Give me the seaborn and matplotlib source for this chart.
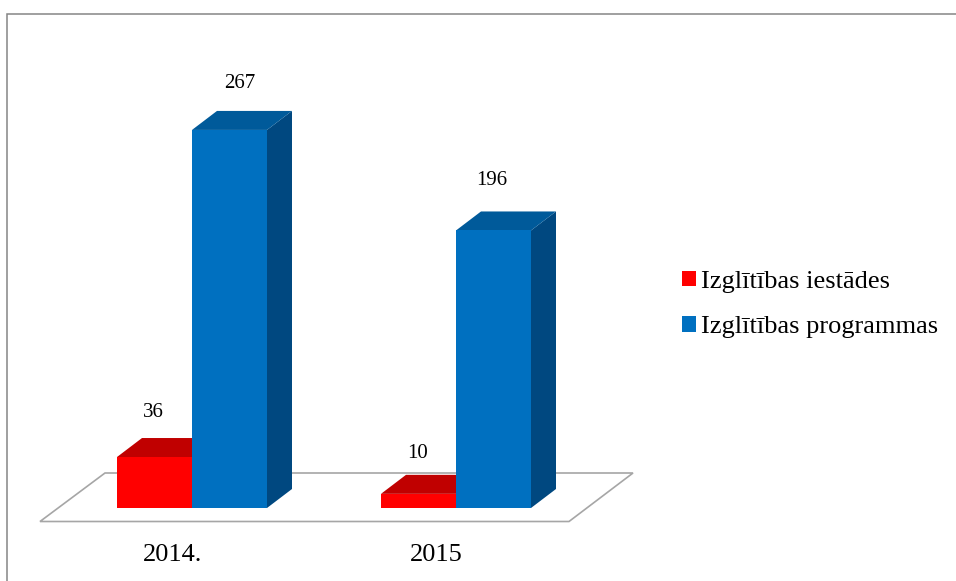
import matplotlib
matplotlib.use("Agg")
import matplotlib.pyplot as plt
import seaborn as sns
import pandas as pd
from matplotlib.lines import Line2D
from matplotlib.patches import Polygon, Rectangle

years = ["2014.", "2015"]
series_names = ["Izglītības iestādes", "Izglītības programmas"]
iestades = [36, 10]
programmas = [267, 196]
front_colors = ["#ff0000", "#0070c0"]
top_colors = ["#c00000", "#005a9a"]
side_colors = ["#a80000", "#004880"]

W, H = 956, 581
sns.set_style("white")
plt.rcParams["font.family"] = ["Liberation Serif", "DejaVu Serif"]

df = pd.DataFrame({
    "year": years * 2,
    "series": [series_names[0]] * 2 + [series_names[1]] * 2,
    "value": iestades + programmas,
})

fig = plt.figure(figsize=(W / 100, H / 100), dpi=100)
fig.patch.set_facecolor("white")

# chart frame: only the top and left edges fall inside the picture
fx, fy = 6.8 / W, 1 - 13.5 / H
fig.add_artist(Line2D([fx, fx, 1], [0, fy, fy], transform=fig.transFigure,
                      color="#858585", lw=1.1, solid_joinstyle="miter"))

left, right, base, scale = 60, 588, 508, 1.416
top = base - 300 * scale
ax = fig.add_axes([left / W, 1 - base / H, (right - left) / W, (base - top) / H])
ax.patch.set_alpha(0)
ax.set_zorder(2)
sns.barplot(data=df, x="year", y="value", hue="series", hue_order=series_names,
            palette=front_colors, width=150 / 264, gap=0, saturation=1, ax=ax,
            legend=False, zorder=3, edgecolor="none", linewidth=0)
ax.set_xlim(-0.5, 1.5)
ax.set_ylim(0, 300)
ax.set_xlabel("")
ax.set_ylabel("")
ax.set_yticks([])
ax.tick_params(axis="x", length=0, labelsize=1, labelcolor="none")
for s in ax.spines.values():
    s.set_visible(False)

DX, DY = 25, 19

# perspective floor, in pixels
floor = Polygon([(40, H - 521.5), (569, H - 521.5), (633, H - 473), (105, H - 473)],
                closed=True, fc="white", ec="#a6a6a6", lw=1.2,
                transform=None, zorder=1, clip_on=False)
fig.add_artist(floor)

# 3D faces derived from each bar's own geometry
n = len(years)
bars = list(ax.patches)[:2 * n]
# value label offset from the bar's top right corner, in pixels
label_offsets = [(-39, 44.5), (-38, 40.5), (-27, 46), (-39, 49.5)]
for i, bar in enumerate(bars):
    sidx = i // n
    x0, x1 = bar.get_x(), bar.get_x() + bar.get_width()
    h = bar.get_height()
    (xa, ya), (xb, yb) = ax.transData.transform([(x0, 0), (x1, h)])
    top_face = Polygon([(xa, yb), (xb, yb), (xb + DX, yb + DY), (xa + DX, yb + DY)],
                       closed=True, fc=top_colors[sidx], ec="none", transform=None, zorder=2)
    side_face = Polygon([(xb, ya), (xb + DX, ya + DY), (xb + DX, yb + DY), (xb, yb)],
                        closed=True, fc=side_colors[sidx], ec="none", transform=None, zorder=2)
    ax.add_artist(side_face)
    ax.add_artist(top_face)
    side_face.set_clip_on(False)
    top_face.set_clip_on(False)
    ox, oy = label_offsets[i]
    ax.annotate(str(int(h)), xy=(x1, h), xycoords="data",
                xytext=(ox * 0.72, oy * 0.72), textcoords="offset points",
                ha="center", va="center", fontsize=15, color="#000000",
                annotation_clip=False, zorder=5)

# category labels, offset left to sit under the perspective floor
for i, y in enumerate(years):
    ax.annotate(y, xy=(i, 0), xycoords="data", xytext=(-19.5 * 0.72, -47 * 0.72),
                textcoords="offset points", ha="center", va="center",
                fontsize=19, color="#000000", annotation_clip=False)

# legend
handles = [Rectangle((0, 0), 1, 1, fc=c, ec="none") for c in front_colors]
leg = fig.legend(handles, series_names, loc="center left", bbox_to_anchor=(682 / W, 1 - 304.5 / H),
                 frameon=False, fontsize=19, labelcolor="#000000",
                 handlelength=0.53, handleheight=0.53,
                 handletextpad=0.2, labelspacing=0.88, borderpad=0, borderaxespad=0)

fig.savefig("out.png", dpi=100)
